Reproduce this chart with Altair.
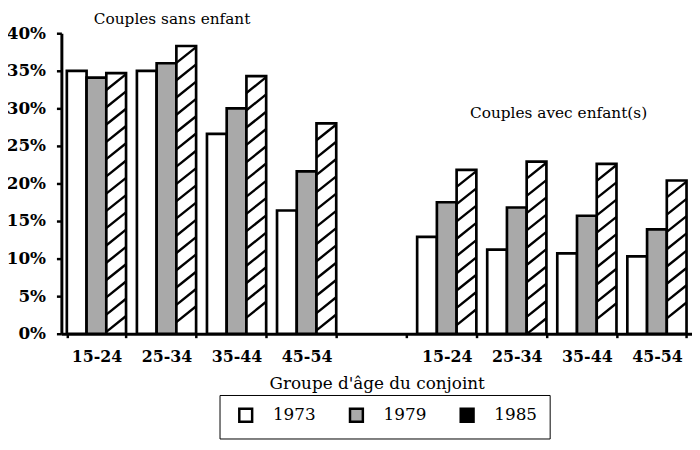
import altair as alt
import pandas as pd

ages = ["15-24", "25-34", "35-44", "45-54"]
years = ["1973", "1979", "1985"]
sans_1973 = [35.0, 35.0, 26.6, 16.4]
sans_1979 = [34.1, 36.0, 30.0, 21.6]
sans_1985 = [34.7, 38.3, 34.3, 28.0]
avec_1973 = [12.9, 11.2, 10.7, 10.3]
avec_1979 = [17.5, 16.8, 15.7, 13.9]
avec_1985 = [21.8, 22.9, 22.6, 20.4]

series = {
    "A": {"1973": sans_1973, "1979": sans_1979, "1985": sans_1985},
    "B": {"1973": avec_1973, "1979": avec_1979, "1985": avec_1985},
}
slots = [f"A|{a}" for a in ages] + ["gap"] + [f"B|{a}" for a in ages]

rows = []
for grp, d in series.items():
    for y in years:
        for a, v in zip(ages, d[y]):
            rows.append({"slot": f"{grp}|{a}", "year": y, "value": v})
df = pd.DataFrame(rows)

FONT = "DejaVu Serif"

x_enc = alt.X(
    "slot:N",
    scale=alt.Scale(domain=slots, paddingInner=0.155, paddingOuter=0.078),
    axis=alt.Axis(
        title="Groupe d'âge du conjoint",
        labelExpr="indexof(datum.label, '|') >= 0 ? split(datum.label, '|')[1] : ''",
        labelAngle=0,
        tickBand="extent",
        tickSize=4,
        tickWidth=2.5,
        tickColor="black",
        domainColor="black",
        domainWidth=3,
        labelFont=FONT,
        labelFontWeight="bold",
        labelFontSize=16,
        labelColor="black",
        labelPadding=11,
        titleFont=FONT,
        titleFontWeight="normal",
        titleFontSize=17,
        titleColor="black",
        titlePadding=11,
    ),
)
xoff = alt.XOffset("year:N", scale=alt.Scale(domain=years, paddingInner=0, paddingOuter=0))

y_axis = alt.Axis(
    title=None,
    values=[0, 5, 10, 15, 20, 25, 30, 35, 40],
    labelExpr="datum.value + '%'",
    labelOverlap=False,
    grid=False,
    tickSize=5,
    tickWidth=2.5,
    tickColor="black",
    domainColor="black",
    domainWidth=3,
    labelFont=FONT,
    labelFontWeight="bold",
    labelFontSize=17,
    labelColor="black",
    labelPadding=11,
)
y_scale = alt.Scale(domain=[0, 40])

bars = alt.Chart(df).mark_bar(stroke="black", strokeWidth=2.7, opacity=1).encode(
    x=x_enc,
    xOffset=xoff,
    y=alt.Y("value:Q", scale=y_scale, axis=y_axis),
    fill=alt.Fill(
        "year:N",
        scale=alt.Scale(domain=years, range=["white", "#a9a9a9", "white"]),
        legend=None,
    ),
)

legend_layer = alt.Chart(df).mark_square(opacity=0, size=1).encode(
    x=x_enc,
    xOffset=xoff,
    y=alt.Y("value:Q", scale=y_scale, axis=y_axis),
    color=alt.Color(
        "year:N",
        scale=alt.Scale(domain=years, range=["white", "#a9a9a9", "black"]),
        legend=alt.Legend(
            title=None,
            orient="none",
            legendX=160,
            legendY=366,
            direction="horizontal",
            strokeColor="black",
            padding=12,
            symbolType="square",
            symbolSize=169,
            symbolOpacity=1,
            symbolStrokeColor="black",
            symbolStrokeWidth=2.5,
            symbolOffset=6,
            labelFont=FONT,
            labelFontSize=17,
            labelColor="black",
            labelOffset=19,
            columnPadding=26,
        ),
    ),
)

hatch = (
    alt.Chart(df)
    .transform_filter("datum.year == '1985'")
    .transform_calculate(h="sequence(datum.value - 1.2, 0.9, -2.3)")
    .transform_flatten(["h"])
    .mark_point(shape="M -1 0.8 L 1 -0.8", stroke="black", strokeWidth=2.4, size=400, filled=False, opacity=1)
    .encode(x=x_enc, xOffset=xoff, y=alt.Y("h:Q", scale=y_scale, axis=y_axis))
)

t1 = alt.Chart(pd.DataFrame({"t": ["Couples sans enfant"]})).mark_text(
    font=FONT, fontSize=15.5, color="black"
).encode(x=alt.value(112), y=alt.value(-14), text="t:N")
t2 = alt.Chart(pd.DataFrame({"t": ["Couples avec enfant(s)"]})).mark_text(
    font=FONT, fontSize=15.5, color="black"
).encode(x=alt.value(503), y=alt.value(81), text="t:N")

chart = (
    alt.layer(bars, hatch, legend_layer, t1, t2)
    .resolve_scale(color="independent", fill="independent")
    .properties(
        width=638,
        height=304,
        autosize=alt.AutoSizeParams(type="none"),
        padding={"left": 54, "top": 23, "right": 0, "bottom": 105},
    )
    .configure_view(stroke=None)
)

chart.save("out.html", embed_options={"renderer": "svg", "actions": False})
